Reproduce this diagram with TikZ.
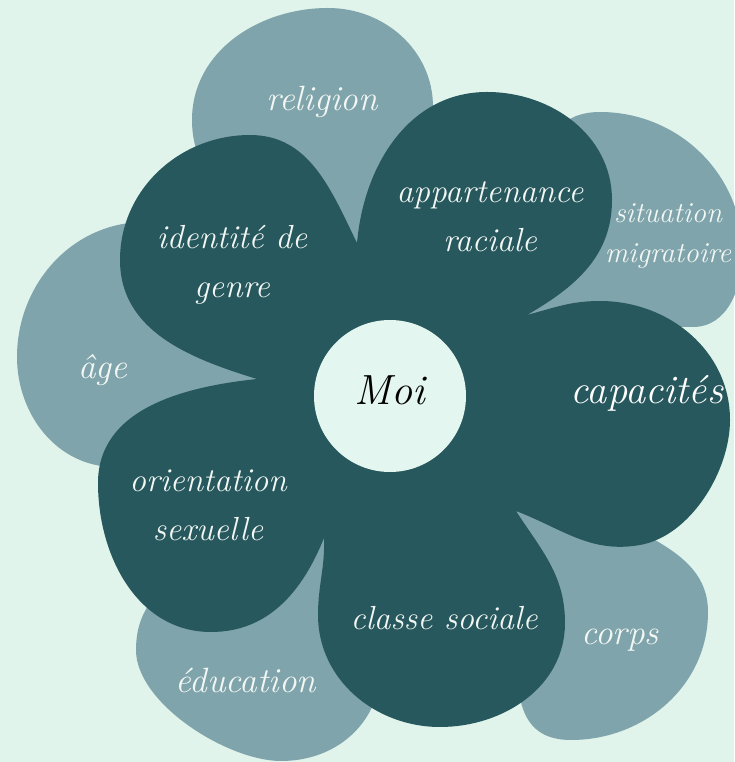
\documentclass[tikz,border=0pt]{standalone}
\usepackage{fontspec}
\usepackage{tikz}

\definecolor{bgmint}{HTML}{E0F4EB}
\definecolor{petallight}{HTML}{80A4AC}
\definecolor{petaldark}{HTML}{27585D}
\definecolor{heartmint}{HTML}{E4F6F0}
\definecolor{labelwhite}{HTML}{F2F7F4}

\tikzset{
  darklabel/.style={text=labelwhite, align=center, inner sep=0pt,
    font=\fontsize{19}{28}\selectfont\itshape},
  lightlabel/.style={text=labelwhite, align=center, inner sep=0pt,
    font=\fontsize{20}{26}\selectfont\itshape},
  capalabel/.style={text=white, inner sep=0pt,
    font=\fontsize{23}{27}\selectfont\itshape},
  moilabel/.style={text=black, inner sep=0pt,
    font=\fontsize{24}{28}\selectfont\itshape},
}

\begin{document}
\begin{tikzpicture}
        \fill [bgmint] (0,0) rectangle (14.68,15.24);
        \useasboundingbox (0,0) rectangle (14.68,15.24);
        %
        \fill [petallight] (7.8,7.32) circle (4.0);
        \fill [petallight]
        (7.3,10.0) to[out=150,in=-90] (3.84,12.84) to[out=90,in=180] (6.56,15.08) --
        (6.56,15.08) to[out=0,in=90] (8.66,13.1) to[out=-90,in=60] (7.3,10.0) -- cycle;
        \fill [petallight]
        (10.3,9.0) to[out=70,in=180] (12.0,13.0) to[out=0,in=90] (14.85,10.2) --
        (14.85,10.2) to[out=-90,in=0] (13.86,8.70) to[out=180,in=-10] (10.3,9.0) -- cycle;
        \fill [petallight]
        (5.4,7.6) to[out=120,in=0] (2.9,10.8) to[out=180,in=90] (0.34,8.10) --
        (0.34,8.10) to[out=-90,in=180] (2.3,5.9) to[out=0,in=-120] (5.4,7.6) -- cycle;
        \fill [petallight]
        (6.6,4.9) to[out=210,in=90] (2.72,2.24) to[out=-90,in=180,looseness=0.75] (5.62,0.02) --
        (5.62,0.02) to[out=0,in=-100] (7.6,1.6) to[out=80,in=-60] (6.6,4.9) -- cycle;
        \fill [petallight]
        (10.0,5.3) to[out=-10,in=150] (13.1,4.44) to[out=-30,in=90] (14.16,3.0) --
        (14.16,3.0) to[out=-90,in=0] (11.42,0.44) to[out=180,in=-60] (10.0,5.3) -- cycle;
        %
        \fill [petaldark]
        (7.14,10.38) to[out=85,in=180] (9.74,13.40) to[out=0,in=90] (12.24,11.24) --
        (12.24,11.24) to[out=-90,in=30] (10.54,8.94) --
        (10.54,8.94) to[out=15,in=180] (12.0,9.22) to[out=0,in=90] (14.60,6.84) --
        (14.60,6.84) to[out=-90,in=10,looseness=0.85] (12.8,4.34) to[out=190,in=-21] (10.32,5.02) --
        (10.32,5.02) to[out=-57,in=90] (11.30,2.78) to[out=-90,in=0] (8.80,0.70) --
        (8.80,0.70) to[out=180,in=-90] (6.36,2.94) to[out=90,in=-88] (6.48,4.48) --
        (6.48,4.48) to[out=-112,in=0] (4.22,2.60) to[out=180,in=-90] (1.96,5.58) --
        (1.96,5.58) to[out=90,in=186] (5.14,7.66) --
        (5.14,7.66) to[out=163,in=-90] (2.40,10.04) to[out=90,in=180] (5.0,12.54) --
        (5.0,12.54) to[out=0,in=116] (7.14,10.38) -- cycle;
        %
        \fill [heartmint] (7.8,7.32) circle (1.52);
        %
        \node [moilabel] (moi) at (7.80,7.44) {Moi};
        \node [darklabel] (appartenance) at (9.80,10.90) {appartenance\\raciale};
        \node [capalabel] (capacites) at (12.94,7.38) {capacités};
        \node [darklabel] (classe) at (8.88,2.88) {classe sociale};
        \node [darklabel] (orientation) at (4.16,5.14) {orientation\\sexuelle};
        \node [darklabel] (identite) at (4.64,9.94) {identité de\\genre};
        %
        \node [lightlabel] (religion) at (6.44,13.20) {religion};
        \node [lightlabel, font=\fontsize{16.5}{23}\selectfont\itshape] (situation) at (13.36,10.52) {situation\\migratoire};
        \node [lightlabel] (age) at (2.06,7.84) {âge};
        \node [lightlabel] (education) at (4.92,1.64) {éducation};
        \node [lightlabel] (corps) at (12.40,2.44) {corps};
\end{tikzpicture}
\end{document}
